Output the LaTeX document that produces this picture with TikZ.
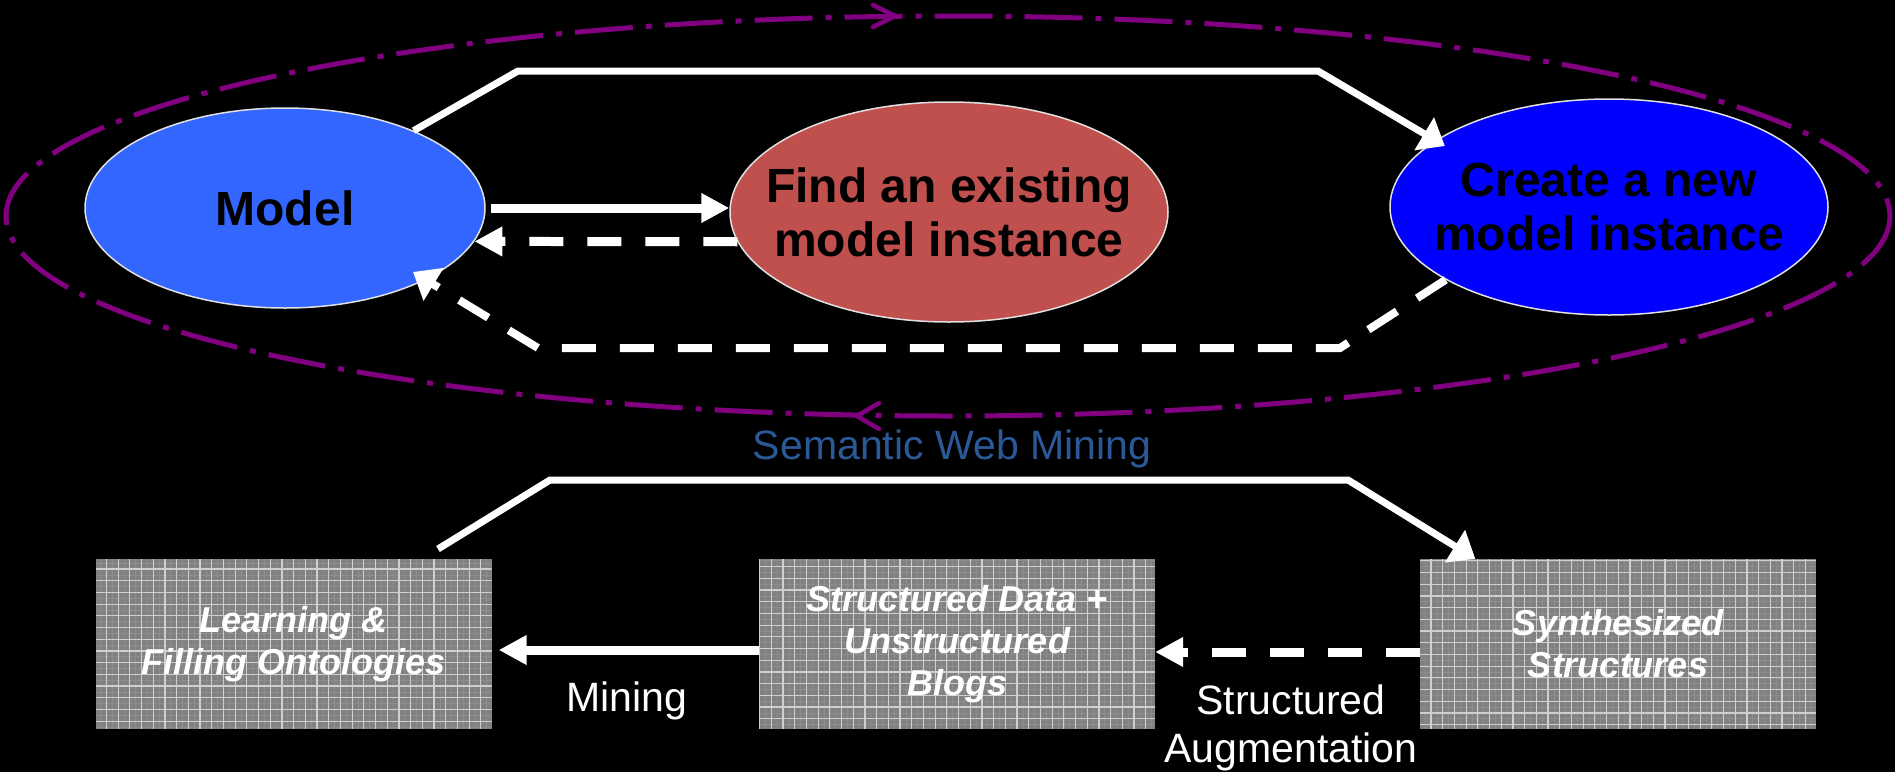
\documentclass[tikz,border=0pt]{standalone}
\usepackage{fontspec}
\setmainfont{Liberation Sans}
\usetikzlibrary{arrows.meta,calc,shapes.geometric}

\definecolor{modelblue}{HTML}{3366FF}
\definecolor{findred}{HTML}{C0504D}
\definecolor{createblue}{HTML}{0000FF}
\definecolor{looppurple}{HTML}{800080}
\definecolor{swblue}{RGB}{43,88,150}
\definecolor{boxgray}{HTML}{818181}
\definecolor{gridminor}{HTML}{8D8D8D}
\definecolor{gridmajor}{HTML}{CFCFCF}

\newcommand\ellfont{\fontsize{48}{54}\selectfont\bfseries}
\newcommand\cellfont{\fontsize{36}{42}\selectfont\bfseries\itshape}
\newcommand\lblfont{\fontsize{41}{48}\selectfont}

\tikzset{
  stateell/.style={ellipse, draw=white!88!black, line width=1.5pt,
    inner ysep=0pt, inner xsep=-60pt, text=black, font=\ellfont, align=center},
  gridbox/.style={rectangle, fill=boxgray, minimum width=396pt,
    minimum height=170pt, inner sep=0pt, text=white, font=\cellfont,
    align=center,
    path picture={
      \draw[gridminor, line width=0.7pt, step=5.85pt]
        (path picture bounding box.south west) grid
        (path picture bounding box.north east);
      \draw[gridmajor, line width=1.2pt, step=11.7pt]
        (path picture bounding box.south west) grid
        (path picture bounding box.north east);
    }},
  wlink/.style={white, line width=7pt, line join=miter},
  slanthead/.style={-{Triangle[length=24pt,width=37pt]}},
  wthick/.style={white, line width=9pt, -{Triangle[length=28pt,width=28pt]}},
  dashlink/.style={dash pattern=on 34pt off 24pt},
  cyclepath/.style={looppurple, line width=5pt,
    dash pattern=on 58pt off 13pt on 6pt off 13pt},
  cyclehead/.style={looppurple, line width=4.5pt, line cap=round,
    line join=round},
  lbl/.style={text=white, font=\lblfont, inner sep=0pt, align=center},
}

\begin{document}
\begin{tikzpicture}[x=1pt, y=-1pt]
\useasboundingbox (0,0) rectangle (1895,772);
\fill[black] (0,0) rectangle (1895,772);

% surrounding dash-dot cycle with its direction marks
\draw[cyclepath] (948,216) ellipse [x radius=942, y radius=200];
\draw[cyclehead] (873,5) -- (895,16) -- (873,27);
\draw[cyclehead] (879,403) -- (857,416) -- (879,429);

% upper row: model and its instances
\node[stateell, fill=modelblue, minimum width=400pt, minimum height=200pt]
  (model) at (285,208) {Model};
\node[stateell, fill=findred, minimum width=438pt, minimum height=220pt]
  (find) at (949,212) {Find an existing\\model instance};
\node[stateell, fill=createblue, minimum width=438pt, minimum height=216pt]
  (create) at (1609,207) {Create a new\\model instance};

% lower row: textured boxes
\node[gridbox] (box1) at (293.5,644) {Learning \&\\Filling Ontologies};
\node[gridbox] (box2) at (957,644) {Structured Data +\\Unstructured\\Blogs};
\node[gridbox] (box3) at (1618,644) {Synthesized\\Structures};

% labels (base = baseline of the last line)
\node[lbl, text=swblue, anchor=base] (swm) at (952,459) {Semantic Web Mining};
\node[lbl, anchor=base] (mining) at (627,711) {Mining};
\node[lbl, anchor=base] (aug) at (1291,762) {Structured\\Augmentation};

% upper connectors
\coordinate (tl) at (518,71);
\coordinate (tr) at (1318,71);
\draw[wlink, slanthead, shorten >=-11pt] (model.31) -- (tl) -- (tr) -- (create.159);
\draw[wthick, shorten <=5pt] (model.east) -- (model.east -| find.west);
\draw[wthick, dashlink] (find.188) -- (model.-10);
\coordinate (br) at (1340,348);
\coordinate (bl) at (538,348);
\draw[wlink, line width=8pt, dashlink, slanthead, shorten >=-15pt]
  (create.204) -- (br) -- (bl) -- (model.-27);

% lower connectors
\coordinate (s1) at (438,549);
\coordinate (ul) at (550,480);
\coordinate (ur) at (1348,480);
\coordinate (t3) at ($(box3.north west)!0.14!(box3.north east)$);
\draw[wlink, slanthead] (s1) -- (ul) -- (ur) -- (t3);
\draw[wthick, shorten >=7pt] ([yshift=-6pt]box2.west) -- ([yshift=-6pt]box1.east);
\draw[wthick, dashlink] ([yshift=-8pt]box3.west) -- ([yshift=-8pt]box2.east);
\end{tikzpicture}
\end{document}
